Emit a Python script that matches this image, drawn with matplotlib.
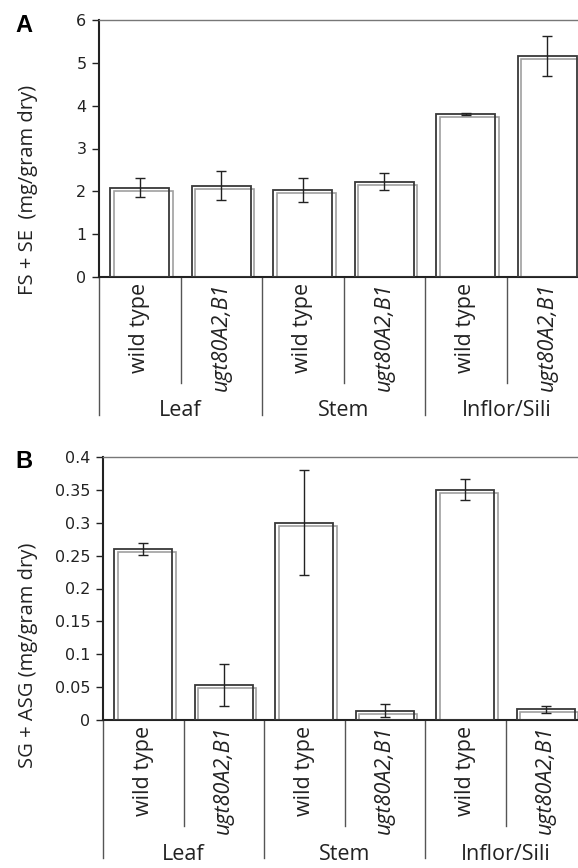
import matplotlib
matplotlib.use("Agg")
import matplotlib.pyplot as plt
import matplotlib.transforms as mtransforms
import numpy as np

# data
genotypes = ["wild type", "ugt80A2,B1"] * 3
tissues = ["Leaf", "Stem", "Inflor/Sili"]
fs_se = [2.08, 2.13, 2.03, 2.22, 3.81, 5.16]
fs_se_err = [0.22, 0.34, 0.28, 0.20, 0.03, 0.47]
sg_asg = [0.260, 0.053, 0.300, 0.014, 0.350, 0.016]
sg_asg_err = [0.009, 0.032, 0.080, 0.010, 0.016, 0.005]

fig = plt.figure(figsize=(5.78, 8.68), dpi=100)
W, H = 578, 868

lab_font = "Open Sans"
tick_font = "DejaVu Sans"


def draw_panel(ax, values, errors, ylim, yticks, yticklabels, ylabel,
               ylabel_y, letter, letter_y):
    x = np.arange(len(values))
    # grey shadow bar, shifted a few pixels right/down
    shadow = mtransforms.offset_copy(ax.transData, fig=fig, x=3.5, y=-3,
                                     units="dots")
    ax.bar(x, values, width=0.72, facecolor="none", edgecolor="#a0a0a0",
           linewidth=1.2, transform=shadow, zorder=2)
    ax.bar(x, values, width=0.72, facecolor="none", edgecolor="#383838",
           linewidth=1.3, zorder=3)
    ax.errorbar(x, values, yerr=errors, fmt="none", ecolor="#222222",
                elinewidth=1.0, capsize=3.6, capthick=1.0, zorder=4)
    ax.set_xlim(-0.5, len(values) - 0.5)
    ax.set_ylim(*ylim)
    ax.set_yticks(yticks)
    ax.set_yticklabels(yticklabels, fontsize=11.5, family=tick_font,
                       color="#2a2a2a")
    ax.set_xticks([])
    ax.tick_params(axis="y", direction="out", length=5, width=1,
                   colors="#222222", pad=4)
    ax.spines["right"].set_visible(False)
    ax.spines["top"].set_color("#777777")
    ax.spines["top"].set_linewidth(1.0)
    ax.spines["left"].set_color("#222222")
    ax.spines["left"].set_linewidth(1.5)
    ax.spines["bottom"].set_color("#222222")
    ax.spines["bottom"].set_linewidth(1.5)
    fig.text(28 / W, 1 - ylabel_y / H, ylabel, rotation=90, fontsize=14.5,
             family=lab_font, color="#222222", ha="center", va="center")

    # category label area under the axis
    hpx = ax.bbox.height
    trans = ax.get_xaxis_transform()
    sub_len = 106 / hpx
    grp_len = 138 / hpx
    for b in [0.5, 2.5, 4.5]:
        ax.plot([b, b], [0, -sub_len], transform=trans, clip_on=False,
                color="#555555", lw=1.0)
    for b in [-0.5, 1.5, 3.5, 5.5]:
        ax.plot([b, b], [0, -grp_len], transform=trans, clip_on=False,
                color="#555555", lw=1.0)
    for i, g in enumerate(genotypes):
        style = "italic" if g.startswith("ugt") else "normal"
        ax.text(i, -6 / hpx, g, transform=trans, rotation=90, ha="center",
                va="top", fontsize=15.5, family=lab_font, style=style,
                color="#222222")
    for j, t in enumerate(tissues):
        ax.text(2 * j + 0.5, -134 / hpx, t, transform=trans, ha="center",
                va="center", fontsize=15.5, family=lab_font,
                color="#222222")
    fig.text(24 / W, 1 - letter_y / H, letter, fontsize=17,
             fontweight="bold", family="Liberation Sans", ha="center",
             va="center")


ax1 = fig.add_axes([99 / W, (H - 277) / H, 489 / W, 257 / H])
draw_panel(ax1, fs_se, fs_se_err, (0, 6), range(7),
           [str(v) for v in range(7)], "FS + SE  (mg/gram dry)", 190,
           "A", 26)

ax2 = fig.add_axes([103 / W, (H - 720) / H, 483 / W, 263 / H])
b_ticks = np.arange(0, 0.41, 0.05)
b_labels = ["0", "0.05", "0.1", "0.15", "0.2", "0.25", "0.3", "0.35", "0.4"]
draw_panel(ax2, sg_asg, sg_asg_err, (0, 0.4), b_ticks, b_labels,
           "SG + ASG (mg/gram dry)", 655, "B", 462)

fig.savefig("out.png", dpi=100)
